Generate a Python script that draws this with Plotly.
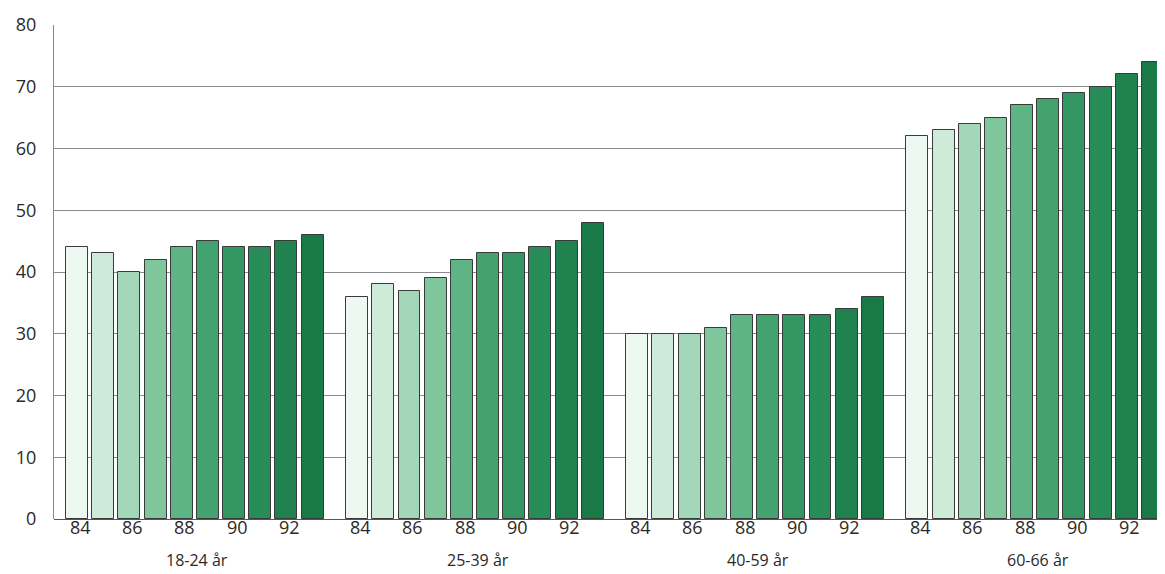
import plotly.graph_objects as go

groups = ["18-24 år", "25-39 år", "40-59 år", "60-66 år"]
years = ["84", "85", "86", "87", "88", "89", "90", "91", "92", "93"]
tick_years = ["84", "86", "88", "90", "92"]

v_18_24 = [44, 43, 40, 42, 44, 45, 44, 44, 45, 46]
v_25_39 = [36, 38, 37, 39, 42, 43, 43, 44, 45, 48]
v_40_59 = [30, 30, 30, 31, 33, 33, 33, 33, 34, 36]
v_60_66 = [62, 63, 64, 65, 67, 68, 69, 70, 72, 74]
values = [v_18_24, v_25_39, v_40_59, v_60_66]

year_colors = ["#eef8f2", "#cdebd8", "#a3d7b7", "#80c69d", "#5fb485",
               "#44a26f", "#339763", "#278c58", "#20834f", "#1a7a47"]

y_ticks = [0, 10, 20, 30, 40, 50, 60, 70, 80]

GROUP_STEP = 10.7
fig = go.Figure()

for yi, yr in enumerate(years):
    xs = [g * GROUP_STEP + yi for g in range(len(groups))]
    ys = [values[g][yi] for g in range(len(groups))]
    fig.add_trace(go.Bar(
        x=xs, y=ys, width=0.84, name=yr,
        marker=dict(color=year_colors[yi], line=dict(color="#3a3a3a", width=1)),
        showlegend=False,
    ))

for g, name in enumerate(groups):
    for t in tick_years:
        fig.add_annotation(x=g * GROUP_STEP + years.index(t) + 0.12, y=-0.017,
                           xref="x", yref="paper", text=t, showarrow=False,
                           yanchor="middle", font=dict(size=18, color="#2a2a2a"))
    fig.add_annotation(x=g * GROUP_STEP + 4.6, y=-0.083, xref="x", yref="paper",
                       text=name, showarrow=False, yanchor="middle",
                       font=dict(size=16, color="#2a2a2a"))

fig.update_layout(
    width=1157, height=566,
    margin=dict(l=46, r=0, t=17, b=55),
    plot_bgcolor="white", paper_bgcolor="white",
    font=dict(family="Open Sans, Lato, sans-serif", color="#2a2a2a"),
    bargap=0,
)
fig.update_xaxes(range=[-0.88, 41.56], showticklabels=False, showgrid=False,
                 showline=False, ticks="", zeroline=False)
fig.update_yaxes(range=[0, 80], tickvals=y_ticks, showgrid=True,
                 gridcolor="#8a8a8a", gridwidth=1, showline=True,
                 linecolor="#8a8a8a", linewidth=1, mirror=False,
                 tickfont=dict(size=18, color="#2a2a2a"), ticks="",
                 ticklabelstandoff=13,
                 zeroline=True, zerolinecolor="#555", zerolinewidth=1)

fig.write_html("out.html")
